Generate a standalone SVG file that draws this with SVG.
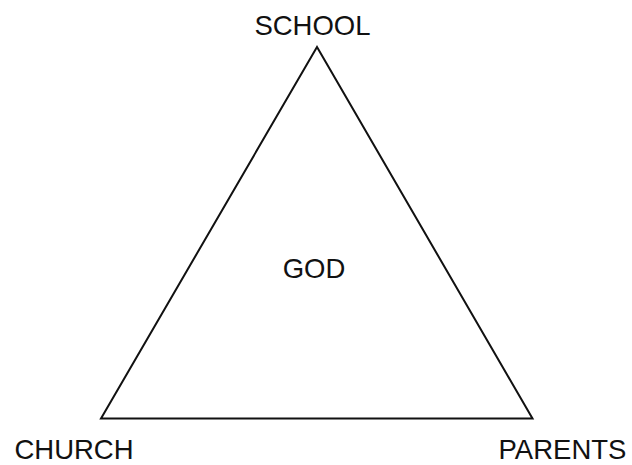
<svg xmlns="http://www.w3.org/2000/svg" width="632" height="465" viewBox="0 0 632 465">
<style>
text{font-family:"Liberation Sans",Arial,sans-serif;font-size:27.5px;fill:#111;text-anchor:middle}
.tri{fill:none;stroke:#111;stroke-width:2;stroke-linejoin:miter}
</style>
<rect width="632" height="465" fill="#fff"/>
<g id="connectors">
<polygon class="tri" points="317,47 101,418.5 532.5,418.5"/>
</g>
<g id="school"><text x="312.5" y="35">SCHOOL</text></g>
<g id="church"><text x="74" y="459">CHURCH</text></g>
<g id="parents"><text x="562.5" y="459">PARENTS</text></g>
<g id="god"><text x="314" y="278">GOD</text></g>
</svg>
